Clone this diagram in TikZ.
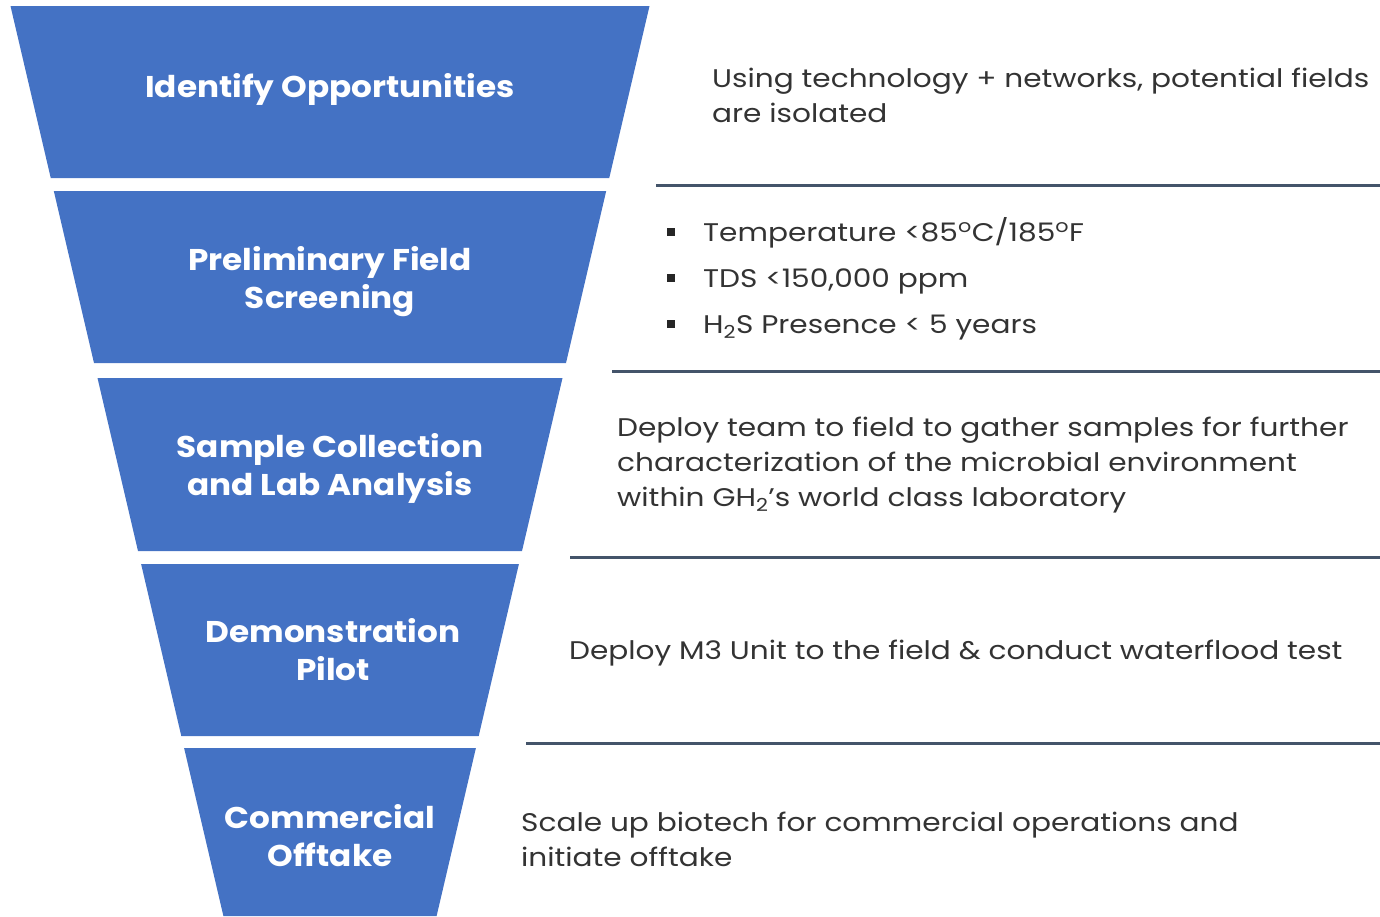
\documentclass[tikz,border=0pt]{standalone}
\usepackage{fontspec}
\setmainfont{Poppins}
\newfontfamily\descfont[FakeStretch=1.16]{Poppins}
\newfontfamily\lblfont[FakeStretch=1.09]{Poppins}
\definecolor{funnelblue}{HTML}{4472C4}
\definecolor{rulegray}{HTML}{44546A}
\definecolor{txtgray}{HTML}{333333}
\tikzset{
  band/.style={fill=funnelblue, draw=none},
  lbl/.style={text=white, font=\lblfont\fontsize{30}{38}\selectfont\bfseries, align=center, inner sep=0pt},
  desc/.style={text=txtgray, font=\descfont\fontsize{25.5}{35}\selectfont, align=left, anchor=west, inner sep=0pt},
  sep/.style={draw=rulegray, line width=3pt},
  bul/.style={fill=black!85, minimum size=8pt, inner sep=0pt},
}
\begin{document}
\begin{tikzpicture}[x=1pt,y=-1pt]
\useasboundingbox (0,0) rectangle (1380,916);
% funnel bands
\fill[band] (10.5,6) -- (649.5,6) -- (609.25,178) -- (50.75,178) -- cycle;
\fill[band] (53.8,191) -- (606.2,191) -- (566,363) -- (94,363) -- cycle;
\fill[band] (97.5,378) -- (562.5,378) -- (522,551) -- (138,551) -- cycle;
\fill[band] (141.1,564) -- (518.9,564) -- (478.7,736) -- (181.3,736) -- cycle;
\fill[band] (184.1,748) -- (475.9,748) -- (436.6,916) -- (223.4,916) -- cycle;
% labels
\node[lbl] (l1) at (330,89) {Identify Opportunities};
\node[lbl] (l2) at (330,282) {Preliminary Field\\Screening};
\node[lbl] (l3) at (330,468) {Sample Collection\\and Lab Analysis};
\node[lbl] (l4) at (333,650) {Demonstration\\Pilot};
\node[lbl] (l5) at (330,836) {Commercial\\Offtake};
% separators
\coordinate (s1a) at (656,185); \coordinate (s1b) at (1380,185);
\coordinate (s2a) at (612,371); \coordinate (s2b) at (1380,371);
\coordinate (s3a) at (570,557); \coordinate (s3b) at (1380,557);
\coordinate (s4a) at (526,743); \coordinate (s4b) at (1380,743);
\draw[sep] (s1a) -- (s1b);
\draw[sep] (s2a) -- (s2b);
\draw[sep] (s3a) -- (s3b);
\draw[sep] (s4a) -- (s4b);
% descriptions
\node[desc] (d1) at (712,95) {Using technology + networks, potential fields\\are isolated};
\node[bul] (b1) at (671,232) {};
\node[bul] (b2) at (671,278) {};
\node[bul] (b3) at (671,324) {};
\node[desc] (t1) at (703,233) {Temperature <85\textsuperscript{o}C/185\textsuperscript{o}F};
\node[desc] (t2) at (703,281) {TDS <150,000 ppm};
\node[desc] (t3) at (703,328) {H\textsubscript{2}S Presence < 5 years};
\node[desc] (d3) at (617,465) {Deploy team to field to gather samples for further\\characterization of the microbial environment\\within GH\textsubscript{2}’s world class laboratory};
\node[desc] (d4) at (569,653) {Deploy M3 Unit to the field \& conduct waterflood test};
\node[desc] (d5) at (521,839) {Scale up biotech for commercial operations and\\initiate offtake};
\end{tikzpicture}
\end{document}
